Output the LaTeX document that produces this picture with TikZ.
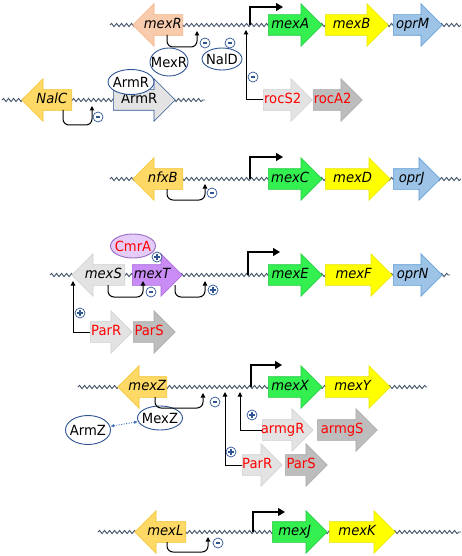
\documentclass[tikz,border=0pt]{standalone}
\usepackage{fontspec}
\setmainfont{DejaVu Sans}[FakeStretch=0.94]
\usetikzlibrary{shapes.arrows,shapes.geometric,decorations.pathmorphing,arrows.meta}
\definecolor{salmon}{HTML}{F8CBAD}\definecolor{salmonD}{HTML}{F4B183}
\definecolor{gold}{HTML}{FFD966}\definecolor{goldD}{HTML}{F2C230}
\definecolor{grn}{HTML}{33F050}\definecolor{grnD}{HTML}{22C840}
\definecolor{yel}{HTML}{FFFF00}\definecolor{yelD}{HTML}{E6E600}
\definecolor{blu}{HTML}{9DC3E6}\definecolor{bluD}{HTML}{5B9BD5}
\definecolor{lg}{HTML}{E3E3E3}\definecolor{lgD}{HTML}{D0D0D0}
\definecolor{dg}{HTML}{BDBDBD}\definecolor{dgD}{HTML}{A8A8A8}
\definecolor{purp}{HTML}{C88CF4}\definecolor{purpD}{HTML}{A866E0}
\definecolor{lpurp}{HTML}{E6CCF8}\definecolor{lpurpD}{HTML}{9A6AC8}
\definecolor{ellB}{HTML}{2F5597}
\definecolor{waveC}{HTML}{44546A}
\definecolor{dotB}{HTML}{4472C4}
\newcommand\gf{\fontsize{14}{16}\selectfont}
\newcommand\zb[1]{\makebox[0pt]{#1}}
\tikzset{
 gene/.style={single arrow, single arrow head extend=11pt, single arrow tip angle=90,
   minimum width=42pt, inner xsep=0pt, inner ysep=4.25pt, text height=9pt, text depth=2.5pt,
   line width=0.6pt, font=\gf\itshape, anchor=tail},
 rgene/.style={gene, minimum height=#1pt},
 lgene/.style={gene, shape border rotate=180, minimum height=#1pt},
 redtxt/.style={font=\gf, text=red},
 prot/.style={ellipse, draw=ellB, line width=0.9pt, fill=white, inner sep=0pt, font=\gf},
 wave/.style={draw=waveC, line width=0.9pt, decorate, decoration={snake, amplitude=1.6pt, segment length=5pt}},
 reg/.style={draw=black, line width=1pt, -{Triangle[length=4.5pt,width=4.5pt]}},
 prom/.style={draw=black, line width=1.2pt, -{Triangle[length=7pt,width=8pt]}},
 loop/.style={reg, rounded corners=6pt},
 sgn/.style={circle, draw=ellB, line width=0.7pt, minimum size=10pt, inner sep=0pt, fill=white},
 negsign/.style={sgn, path picture={\draw[line width=1.4pt] ([xshift=-2.3pt]path picture bounding box.center) -- ([xshift=2.3pt]path picture bounding box.center);}},
 possign/.style={sgn, path picture={\draw[line width=1.2pt] ([xshift=-3pt]path picture bounding box.center) -- ([xshift=3pt]path picture bounding box.center) ([yshift=-3pt]path picture bounding box.center) -- ([yshift=3pt]path picture bounding box.center);}},
 dotarr/.style={draw=dotB, dash pattern=on 1pt off 1.5pt, line width=0.9pt, {Latex[length=4pt,width=3.5pt]}-{Latex[length=4pt,width=3.5pt]}}
}
\begin{document}
\begin{tikzpicture}[x=1pt,y=-1pt]
\useasboundingbox (0,0) rectangle (461,556);
% ---------------- waves
\coordinate (w1a) at (110,25); \coordinate (w1b) at (461,25);
\coordinate (w2a) at (2,100); \coordinate (w2b) at (205,100);
\coordinate (w3a) at (110,179); \coordinate (w3b) at (461,179);
\coordinate (w4a) at (50,275); \coordinate (w4b) at (450,275);
\coordinate (w5a) at (78,387); \coordinate (w5b) at (427,387);
\coordinate (w6a) at (98,532); \coordinate (w6b) at (461,532);
\path[wave] (w1a) -- (w1b);
\path[wave] (w2a) -- (w2b);
\path[wave] (w3a) -- (w3b);
\path[wave] (w4a) -- (w4b);
\path[wave] (w5a) -- (w5b);
\path[wave] (w6a) -- (w6b);
% ---------------- row 1
\node[lgene=50, fill=salmon, draw=salmonD] (mexR) at (183,25) {\zb{mexR}};
\node[rgene=54, fill=grn, draw=grnD] (mexA) at (268,25) {\zb{mexA}};
\node[rgene=63, fill=yel, draw=yelD] (mexB) at (325,25) {\zb{mexB}};
\node[rgene=49, fill=blu, draw=bluD] (oprM) at (393,25) {\zb{oprM}};
\node[lgene=50, fill=gold, draw=goldD] (NalC) at (72,100) {\zb{NalC}};
\node[rgene=62, fill=lg, draw=ellB, font=\gf] (ArmRg) at (113,100) {\zb{ArmR}};
\node[rgene=49, fill=lg, draw=lgD, redtxt] (rocS2) at (263,100) {\zb{rocS2}};
\node[rgene=49, fill=dg, draw=dgD, redtxt] (rocA2) at (313,100) {\zb{rocA2}};
\node[prot, minimum width=38pt, minimum height=28pt] (MexRp) at (169,62) {\zb{MexR}};
\node[prot, minimum width=46pt, minimum height=25pt] (ArmRp) at (131,82) {\zb{ArmR}};
\node[prot, minimum width=40pt, minimum height=22pt] (NalDp) at (222,59) {\zb{NalD}};
\coordinate (p1) at (250,25); \coordinate (p1t) at (283,7);
\draw[prom] (p1) |- (p1t);
\coordinate (r1) at (246,30);
\draw[reg] (rocS2.tail) -| (r1);
\coordinate (l1a) at (167,35); \coordinate (l1b) at (197,31);
\draw[loop] (l1a) -- ++(0,12) -| (l1b);
\coordinate (l2a) at (63,110); \coordinate (l2b) at (92,106);
\draw[loop] (l2a) -- ++(0,15) -| (l2b);
\node[negsign] (s1) at (205,43) {};
\node[negsign] (s2) at (230,43) {};
\node[negsign] (s3) at (253,77) {};
\node[negsign] (s4) at (98,117) {};
% ---------------- row 2
\node[lgene=50, fill=gold, draw=goldD] (nfxB) at (183,179) {\zb{nfxB}};
\node[rgene=54, fill=grn, draw=grnD] (mexC) at (268,179) {\zb{mexC}};
\node[rgene=65, fill=yel, draw=yelD] (mexD) at (325,179) {\zb{mexD}};
\node[rgene=47, fill=blu, draw=bluD] (oprJ) at (393,179) {\zb{oprJ}};
\coordinate (p2) at (250,179); \coordinate (p2t) at (283,157);
\draw[prom] (p2) |- (p2t);
\coordinate (l3a) at (167,189); \coordinate (l3b) at (205,184);
\draw[loop] (l3a) -- ++(0,11) -| (l3b);
\node[negsign] (s5) at (212,193) {};
% ---------------- row 3
\node[lgene=53, fill=lg, draw=lgD] (mexS) at (125,275) {\zb{mexS}};
\node[rgene=50, fill=purp, draw=purpD] (mexT) at (132,275) {\zb{mexT}};
\node[rgene=54, fill=grn, draw=grnD] (mexE) at (268,275) {\zb{mexE}};
\node[rgene=67, fill=yel, draw=yelD] (mexF) at (325,275) {\zb{mexF}};
\node[rgene=49, fill=blu, draw=bluD] (oprN) at (393,275) {\zb{oprN}};
\node[rgene=42, fill=lg, draw=lgD, redtxt] (ParR3) at (90,332) {\zb{ParR}};
\node[rgene=42, fill=dg, draw=dgD, redtxt] (ParS3) at (133,332) {\zb{ParS}};
\node[prot, fill=lpurp, draw=lpurpD, text=red, minimum width=45pt, minimum height=24pt] (CmrA) at (133,246) {\zb{CmrA}};
\coordinate (p3) at (248,275); \coordinate (p3t) at (280,252);
\draw[prom] (p3) |- (p3t);
\coordinate (l4a) at (108,285); \coordinate (l4b) at (143,281);
\draw[loop] (l4a) -- ++(0,12) -| (l4b);
\coordinate (l5a) at (175,285); \coordinate (l5b) at (205,281);
\draw[loop] (l5a) -- ++(0,12) -| (l5b);
\coordinate (r3) at (73,281);
\draw[reg] (ParR3.tail) -| (r3);
\node[possign] (s6) at (157,257) {};
\node[negsign] (s7) at (151,292) {};
\node[possign] (s8) at (213,290) {};
\node[possign] (s9) at (80,313) {};
% ---------------- row 4
\node[lgene=49, fill=gold, draw=goldD] (mexZ) at (167,387) {\zb{mexZ}};
\node[rgene=54, fill=grn, draw=grnD] (mexX) at (268,387) {\zb{mexX}};
\node[rgene=65, fill=yel, draw=yelD] (mexY) at (325,387) {\zb{mexY}};
\node[rgene=51, fill=lg, draw=lgD, redtxt] (armgR) at (262,430) {\zb{armgR}};
\node[rgene=60, fill=dg, draw=dgD, redtxt] (armgS) at (317,430) {\zb{armgS}};
\node[rgene=40, fill=lg, draw=lgD, redtxt] (ParR4) at (242,465) {\zb{ParR}};
\node[rgene=42, fill=dg, draw=dgD, redtxt] (ParS4) at (285,465) {\zb{ParS}};
\node[prot, minimum width=45pt, minimum height=24pt] (MexZp) at (160,418) {\zb{MexZ}};
\node[prot, minimum width=45pt, minimum height=29pt] (ArmZp) at (88,430) {\zb{ArmZ}};
\draw[dotarr] (ArmZp) -- (MexZp);
\coordinate (p4) at (251,387); \coordinate (p4t) at (282,365);
\draw[prom] (p4) |- (p4t);
\coordinate (l6a) at (155,397); \coordinate (l6b) at (203,393);
\draw[loop] (l6a) -- ++(0,11) -| (l6b);
\coordinate (r4) at (225,392); \coordinate (r5) at (240,392);
\draw[reg] (ParR4.tail) -| (r4);
\draw[reg] (armgR.tail) -| (r5);
\node[negsign] (s10) at (215,402) {};
\node[possign] (s11) at (231,452) {};
\node[possign] (s12) at (252,415) {};
% ---------------- row 5
\node[lgene=51, fill=gold, draw=goldD] (mexL) at (186,532) {\zb{mexL}};
\node[rgene=55, fill=grn, draw=grnD] (mexJ) at (272,532) {\zb{mexJ}};
\node[rgene=66, fill=yel, draw=yelD] (mexK) at (329,532) {\zb{mexK}};
\coordinate (p5) at (253,532); \coordinate (p5t) at (285,512);
\draw[prom] (p5) |- (p5t);
\coordinate (l7a) at (167,542); \coordinate (l7b) at (208,537);
\draw[loop] (l7a) -- ++(0,10) -| (l7b);
\node[negsign] (s13) at (218,543) {};
\end{tikzpicture}
\end{document}
